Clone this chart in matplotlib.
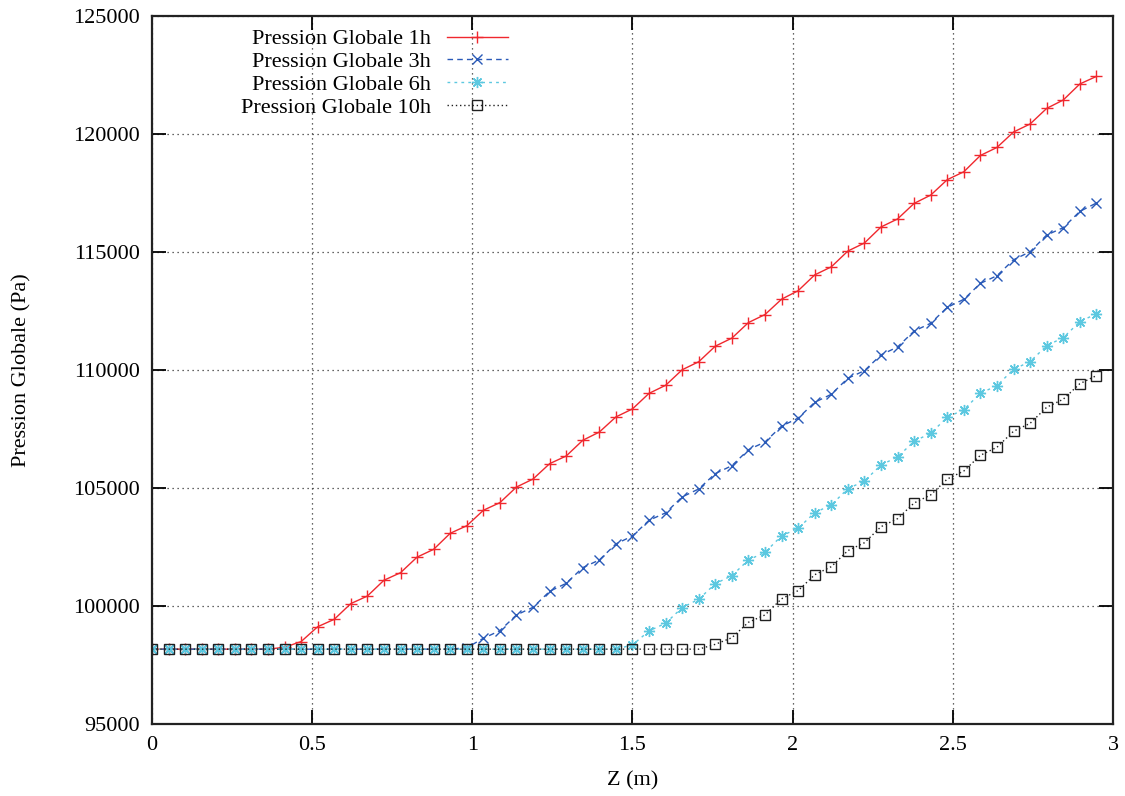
import matplotlib
matplotlib.use('Agg')
import matplotlib.pyplot as plt
from matplotlib.ticker import MultipleLocator, FuncFormatter

plt.rcParams['font.family'] = ['Liberation Serif', 'DejaVu Serif']

# Z positions (m), 58 points
z = [0.0, 0.0517, 0.1034, 0.1552, 0.2069, 0.2586, 0.3103, 0.3621, 0.4138, 0.4655,
     0.5172, 0.5690, 0.6207, 0.6724, 0.7241, 0.7759, 0.8276, 0.8793, 0.9310, 0.9828,
     1.0345, 1.0862, 1.1379, 1.1897, 1.2414, 1.2931, 1.3448, 1.3966, 1.4483, 1.5000,
     1.5517, 1.6034, 1.6552, 1.7069, 1.7586, 1.8103, 1.8621, 1.9138, 1.9655, 2.0172,
     2.0690, 2.1207, 2.1724, 2.2241, 2.2759, 2.3276, 2.3793, 2.4310, 2.4828, 2.5345,
     2.5862, 2.6379, 2.6897, 2.7414, 2.7931, 2.8448, 2.8966, 2.9483]

p_1h = [98170, 98170, 98170, 98170, 98170, 98170, 98170, 98170, 98250, 98490,
        99120, 99435, 100100, 100420, 101090, 101410, 102070, 102400, 103080, 103400,
        104055, 104380, 105040, 105380, 106030, 106355, 107020, 107370, 108010, 108350,
        109010, 109350, 110010, 110350, 111010, 111350, 112010, 112350, 113000, 113360,
        114030, 114370, 115040, 115380, 116060, 116400, 117060, 117410, 118065, 118400,
        119090, 119430, 120085, 120425, 121085, 121440, 122120, 122440]

p_3h = [98170, 98170, 98170, 98170, 98170, 98170, 98170, 98170, 98170, 98170,
        98170, 98170, 98170, 98170, 98170, 98170, 98170, 98170, 98170, 98230,
        98630, 98955, 99620, 99945, 100620, 100960, 101625, 101950, 102630, 102965,
        103630, 103945, 104620, 104960, 105610, 105945, 106620, 106950, 107620, 107960,
        108630, 108970, 109650, 109970, 110640, 110975, 111650, 111980, 112655, 112995,
        113670, 113995, 114670, 115010, 115720, 116030, 116720, 117075]

p_6h = [98170, 98170, 98170, 98170, 98170, 98170, 98170, 98170, 98170, 98170,
        98170, 98170, 98170, 98170, 98170, 98170, 98170, 98170, 98170, 98170,
        98170, 98170, 98170, 98170, 98170, 98170, 98170, 98170, 98170, 98350,
        98940, 99270, 99930, 100285, 100945, 101285, 101950, 102275, 102970, 103290,
        103955, 104280, 104970, 105295, 105975, 106315, 106980, 107320, 107995, 108320,
        109015, 109335, 110030, 110355, 111030, 111370, 112045, 112385]

p_10h = [98170, 98170, 98170, 98170, 98170, 98170, 98170, 98170, 98170, 98170,
         98170, 98170, 98170, 98170, 98170, 98170, 98170, 98170, 98170, 98170,
         98170, 98170, 98170, 98170, 98170, 98170, 98170, 98170, 98170, 98170,
         98170, 98170, 98170, 98170, 98375, 98655, 99310, 99620, 100305, 100650,
         101325, 101665, 102345, 102680, 103360, 103700, 104365, 104705, 105380, 105720,
         106385, 106725, 107405, 107740, 108420, 108760, 109420, 109760]

labels = ['Pression Globale 1h', 'Pression Globale 3h',
          'Pression Globale 6h', 'Pression Globale 10h']

fig = plt.figure(figsize=(11.25, 7.96), dpi=100)
ax = fig.add_axes([0.1351, 0.0905, 0.8542, 0.8894])

ax.plot(z, p_1h, color='#f0282e', lw=1.0, ls='-', marker='+', ms=8, mew=1.0, label=labels[0])
ax.plot(z, p_3h, color='#2a5ab8', lw=1.0, ls=(0, (4, 3)), marker='x', ms=7, mew=1.0, label=labels[1])
ax.plot(z, p_6h, color='#5cc8e0', lw=1.0, ls=(0, (2, 3)), marker=(8, 2, 0), ms=8, mew=1.0, label=labels[2])
ax.plot(z, p_10h, color='#202020', lw=1.0, ls=(0, (1, 2)), marker='s', ms=7, mew=1.0,
        mfc='none', label=labels[3])

ax.set_xlim(0, 3)
ax.set_ylim(95000, 125000)
ax.xaxis.set_major_locator(MultipleLocator(0.5))
ax.yaxis.set_major_locator(MultipleLocator(5000))
fmt = FuncFormatter(lambda v, pos: '%g' % v)
ax.xaxis.set_major_formatter(fmt)
ax.yaxis.set_major_formatter(fmt)

ax.grid(True, color='#333333', ls=(0, (1, 3)), lw=0.9)
ax.tick_params(direction='in', length=10, width=1.3, top=True, right=True,
               labelsize=16, pad=9)
for s in ax.spines.values():
    s.set_linewidth(1.6)
    s.set_color('#222222')

ax.set_xlabel('Z (m)', fontsize=16, labelpad=11.5)
ax.set_ylabel('Pression Globale (Pa)', fontsize=16, labelpad=30)

# gnuplot style key: text right-aligned, sample after it
leg = ax.legend(loc='upper right', bbox_to_anchor=(0.3865, 1.004), markerfirst=False,
                frameon=False, fontsize=16, handlelength=2.75, handletextpad=0.7,
                labelspacing=0.1, borderpad=0.2)
for t in leg.get_texts():
    t.set_ha('right')

fig.savefig('out.png', dpi=100)
